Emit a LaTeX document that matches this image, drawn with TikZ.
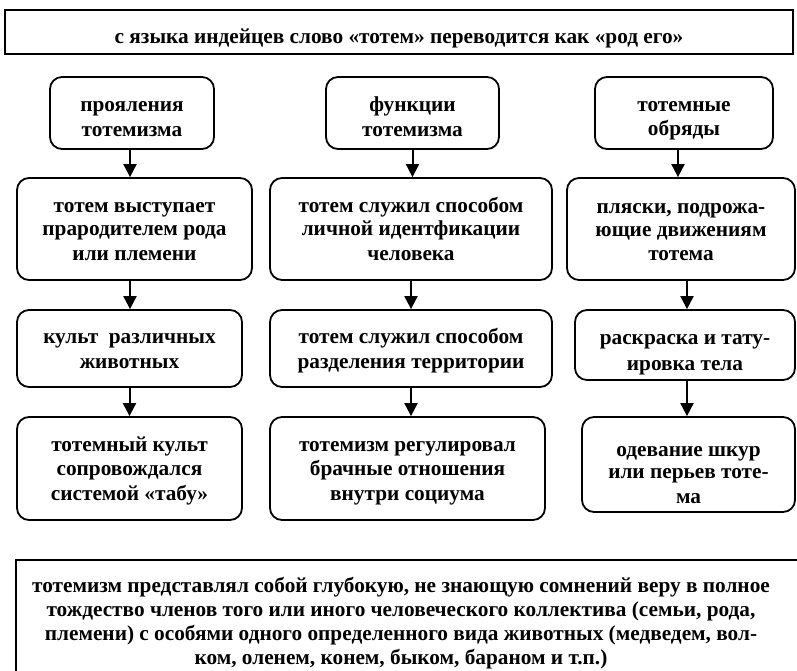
\documentclass[tikz,border=0pt]{standalone}
\usepackage{fontspec}
\setmainfont{Liberation Serif}
\usetikzlibrary{arrows.meta}

\newcommand{\boxfont}{\fontsize{21.3}{23.3}\selectfont\bfseries}
\newcommand{\footfont}{\fontsize{21.3}{24}\selectfont\bfseries}
\newcommand{\ls}[1][23.5pt]{\rule[-4pt]{0pt}{#1}}

\tikzset{
  stepbox/.style={draw, line width=1.8pt, rounded corners=12pt, align=center,
    font=\boxfont, inner sep=0pt},
  framebox/.style={draw, line width=2pt, align=center, font=\boxfont, inner sep=0pt},
  arr/.style={-{Triangle[length=13pt,width=13pt]}, line width=2pt},
}

\begin{document}
\begin{tikzpicture}[x=1pt,y=-1pt]
  \useasboundingbox (0,0) rectangle (797,671);
  \clip (0,0) rectangle (797,671);

  % header
  \node[framebox, minimum width=788pt, minimum height=44pt,
    text height=24pt, text depth=0pt] (head) at (399,32)
    {с языка индейцев слово «тотем» переводится как «род его»};

  % first column
  \node[stepbox, minimum width=164pt, minimum height=72pt] (A1) at (132,113)
    {\ls[29.5pt]прояления\\тотемизма\ls};
  \node[stepbox, minimum width=235pt, minimum height=102pt] (A2) at (134.5,229)
    {\ls тотем выступает\\прародителем рода\\или племени\ls};
  \node[stepbox, minimum width=225pt, minimum height=77pt] (A3) at (129.5,348.5)
    {\ls культ\ \ различных\\животных\ls};
  \node[stepbox, minimum width=225pt, minimum height=103pt] (A4) at (129.5,468.5)
    {\ls тотемный культ\\сопровождался\\системой «табу»\ls};

  % second column
  \node[stepbox, minimum width=173pt, minimum height=72pt] (B1) at (412.5,113)
    {\ls[29.5pt]функции\\тотемизма\ls};
  \node[stepbox, minimum width=282pt, minimum height=102pt] (B2) at (411,229)
    {\ls тотем служил способом\\личной идентфикации\\человека\ls};
  \node[stepbox, minimum width=282pt, minimum height=77pt] (B3) at (411,348.5)
    {\ls тотем служил способом\\разделения территории\ls};
  \node[stepbox, minimum width=275pt, minimum height=103pt] (B4) at (407.5,468.5)
    {\ls тотемизм регулировал\\брачные отношения\\внутри социума\ls};

  % third column
  \node[stepbox, minimum width=178pt, minimum height=72pt] (C1) at (684,113)
    {\ls[29.5pt]тотемные\\обряды\ls};
  \node[stepbox, minimum width=228pt, minimum height=102pt] (C2) at (681,229)
    {\ls пляски, подрожа-\\ющие движениям\\тотема\ls};
  \node[stepbox, minimum width=220pt, minimum height=70pt] (C3) at (685,345)
    {\ls[33.5pt]раскраска и тату-\\ировка тела\ls};
  \node[stepbox, minimum width=213pt, minimum height=95pt,
    font=\fontsize{21.3}{22}\selectfont\bfseries] (C4) at (688.5,464.5)
    {\ls[39pt]одевание шкур\\или перьев тоте-\\ма\ls};

  % summary
  \node[font=\footfont, align=center, inner sep=0pt] (foot) at (401,623)
    {тотемизм представлял собой глубокую, не знающую сомнений веру в полное\\
     тождество членов того или иного человеческого коллектива (семьи, рода,\\
     племени) с особями одного определенного вида животных (медведем, вол-\\
     ком, оленем, конем, быком, бараном и т.п.)};
  \draw[line width=2pt] (16,700) |- (820,560);

  % arrows
  \draw[arr] ([xshift=-2pt]A1.south) -- ([xshift=-2pt]A1.south |- A2.north);
  \draw[arr] ([xshift=-4.5pt]A2.south) -- ([xshift=-4.5pt]A2.south |- A3.north);
  \draw[arr] (A3.south) -- (A3.south |- A4.north);
  \draw[arr] (B1.south) -- (B1.south |- B2.north);
  \draw[arr] (B2.south) -- (B2.south |- B3.north);
  \draw[arr] (B3.south) -- (B3.south |- B4.north);
  \draw[arr] ([xshift=-6pt]C1.south) -- ([xshift=-6pt]C1.south |- C2.north);
  \draw[arr] ([xshift=6pt]C2.south) -- ([xshift=6pt]C2.south |- C3.north);
  \draw[arr] ([xshift=2pt]C3.south) -- ([xshift=2pt]C3.south |- C4.north);
\end{tikzpicture}
\end{document}
